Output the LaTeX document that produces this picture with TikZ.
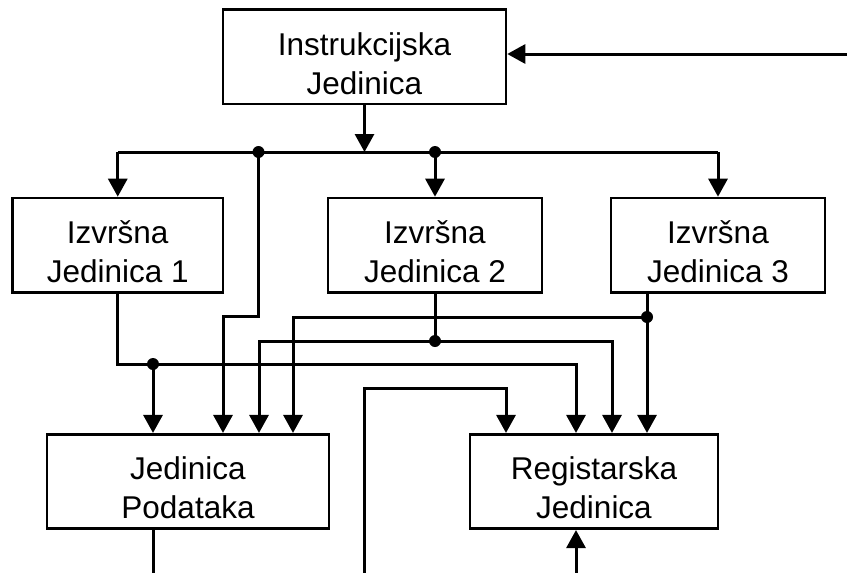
\documentclass[tikz,border=0pt]{standalone}
\usepackage{fontspec}
\setmainfont{Liberation Sans}
\usetikzlibrary{arrows.meta}
% two-line box label; the strut lowers the text block a little
\newcommand\boxlabel[2]{\rule{0pt}{36pt}#1\\#2}
\begin{document}
\begin{tikzpicture}[x=1pt,y=-1pt,
  unit/.style={draw, line width=2.6pt, inner sep=0pt, align=center,
    font=\fontsize{31.5}{39}\selectfont, minimum height=94.5pt},
  wire/.style={line width=3pt},
  flow/.style={wire, -{Triangle[length=18pt,width=19pt]}},
  junction/.style={circle, fill, inner sep=0pt, minimum size=12pt}]
\useasboundingbox (0,0) rectangle (847,573);

% units
\node[unit, minimum width=283pt] (instr) at (364.5,56.75) {\boxlabel{Instrukcijska}{Jedinica}};
\node[unit, minimum width=210.5pt] (eu1) at (117.75,245.25) {\boxlabel{Izvršna}{Jedinica 1}};
\node[unit, minimum width=214pt] (eu2) at (435,245.25) {\boxlabel{Izvršna}{Jedinica 2}};
\node[unit, minimum width=214pt] (eu3) at (718,245.25) {\boxlabel{Izvršna}{Jedinica 3}};
\node[unit, minimum width=282pt] (jp) at (188,481.5) {\boxlabel{Jedinica}{Podataka}};
\node[unit, minimum width=248pt] (reg) at (594,481.5) {\boxlabel{Registarska}{Jedinica}};

% junction and bend points
\coordinate (feed) at (847,54);
\coordinate (busL) at (117.75,152);
\coordinate (busR) at (718,152);
\coordinate (p1) at (258.5,152);
\coordinate (p2) at (435,152);
\coordinate (k1) at (223,316);
\coordinate (e1) at (576,364);
\coordinate (p3) at (153,364);
\coordinate (p4) at (435,341);
\coordinate (k2) at (259,341);
\coordinate (r3) at (612,341);
\coordinate (p5) at (647,317);
\coordinate (k3) at (293,317);
\coordinate (b1) at (364,573);
\coordinate (b2) at (506,388);
\coordinate (b3) at (576,573);
\coordinate (b4) at (153,573);

% instruction unit and distribution bus
\draw[flow] (feed) -- (feed -| instr.east);
\draw[flow] (instr.south) -- (instr.south |- busL);
\draw[wire] (busL) -- (busR);
\draw[flow] (busL) -- (eu1.north);
\draw[flow] (busR) -- (eu3.north);
\draw[flow] (p2) -- (eu2.north);
\draw[flow] (p1) |- (k1) -- (k1 |- jp.north);

% execution unit 1
\draw[flow] (eu1.south) |- (e1) -- (e1 |- reg.north);
\draw[flow] (p3) -- (p3 |- jp.north);

% execution unit 2
\draw[wire] (eu2.south) -- (p4);
\draw[flow] (p4) -- (k2) -- (k2 |- jp.north);
\draw[flow] (p4) -- (r3) -- (r3 |- reg.north);

% execution unit 3
\draw[flow] (eu3.south -| p5) -- (p5 |- reg.north);
\draw[flow] (p5) -- (k3) -- (k3 |- jp.north);

% lower connections
\draw[flow] (b1) |- (b2) -- (b2 |- reg.north);
\draw[flow] (b3) -- (b3 |- reg.south);
\draw[wire] (jp.south -| b4) -- (b4);

% junction dots
\node[junction] (d1) at (p1) {};
\node[junction] (d2) at (p2) {};
\node[junction] (d3) at (p3) {};
\node[junction] (d4) at (p4) {};
\node[junction] (d5) at (p5) {};
\end{tikzpicture}
\end{document}
